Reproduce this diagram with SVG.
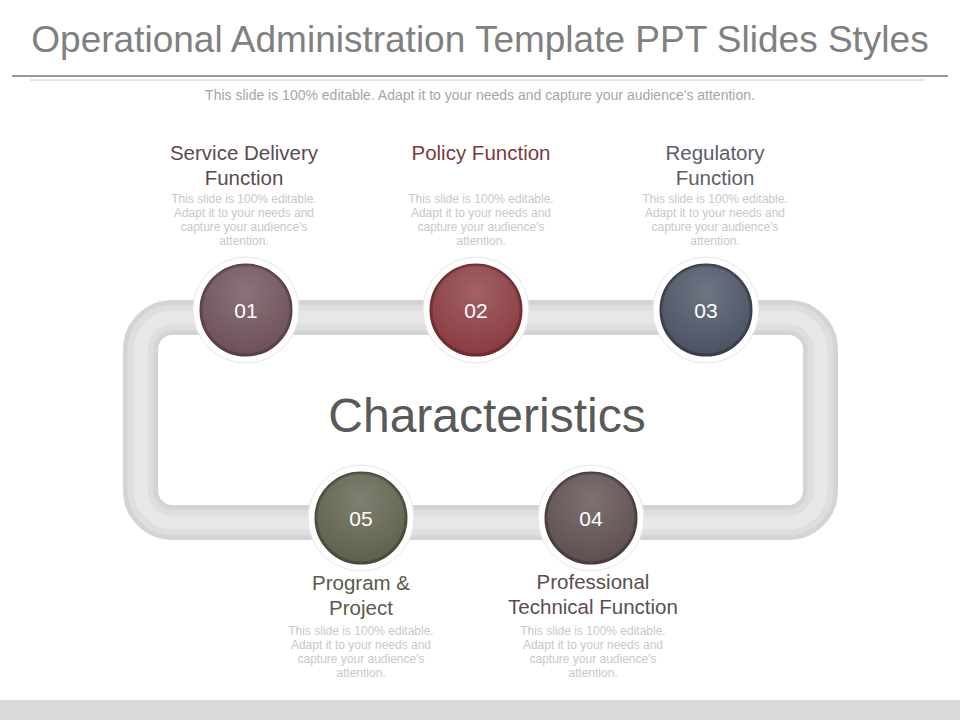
<svg xmlns="http://www.w3.org/2000/svg" width="960" height="720" viewBox="0 0 960 720">
<defs>
<radialGradient id="hl" cx="0.5" cy="0.3" r="0.7"><stop offset="0" stop-color="#fff" stop-opacity="0.2"/><stop offset="1" stop-color="#fff" stop-opacity="0"/></radialGradient>
</defs>
<style>
text{font-family:"Liberation Sans",Arial,sans-serif}
.h{font-size:20.5px;text-anchor:middle}
.d{font-size:12px;fill:#c8c8c8;text-anchor:middle}
.n{font-size:21px;fill:#fff;text-anchor:middle}
.ring{fill:#fff;stroke:#e6e6e6;stroke-width:1}
</style>
<rect width="960" height="720" fill="#fff"/>
<rect y="700" width="960" height="20" fill="#d9d9d9"/>
<text x="480" y="52" font-size="37" fill="#808080" text-anchor="middle">Operational Administration Template PPT Slides Styles</text>
<line x1="12" y1="76" x2="948" y2="76" stroke="#777" stroke-width="1.5"/>
<line x1="30" y1="80" x2="925" y2="80" stroke="#ccc" stroke-width="1"/>
<text x="480" y="100" font-size="14" fill="#a6a6a6" text-anchor="middle">This slide is 100% editable. Adapt it to your needs and capture your audience's attention.</text>
<g id="connectors">
<rect x="140.5" y="317.5" width="680" height="205" rx="32" fill="none" stroke="#d4d4d4" stroke-width="35"/>
<rect x="140.5" y="317.5" width="680" height="205" rx="32" fill="none" stroke="#dedede" stroke-width="26"/>
<rect x="140.5" y="317.5" width="680" height="205" rx="32" fill="none" stroke="#e7e7e7" stroke-width="14"/>
</g>
<text x="487" y="432" font-size="48" fill="#595959" text-anchor="middle">Characteristics</text>
<g id="n01">
<circle class="ring" cx="246" cy="310" r="53"/>
<circle cx="246" cy="310" r="45" fill="#6e5058" stroke="#5a3f46" stroke-width="3"/>
<circle cx="246" cy="310" r="45" fill="url(#hl)"/>
<text class="n" x="246" y="318">01</text>
<text class="h" x="244" y="160" fill="#5a4a50">Service Delivery</text>
<text class="h" x="244" y="185" fill="#5a4a50">Function</text>
<text class="d" x="244" y="203">This slide is 100% editable.</text>
<text class="d" x="244" y="217">Adapt it to your needs and</text>
<text class="d" x="244" y="231">capture your audience's</text>
<text class="d" x="244" y="245">attention.</text>
</g>
<g id="n02">
<circle class="ring" cx="476" cy="310" r="53"/>
<circle cx="476" cy="310" r="45" fill="#8a3b40" stroke="#6f2c30" stroke-width="3"/>
<circle cx="476" cy="310" r="45" fill="url(#hl)"/>
<text class="n" x="476" y="318">02</text>
<text class="h" x="481" y="160" fill="#7a3a3f">Policy Function</text>
<text class="d" x="481" y="203">This slide is 100% editable.</text>
<text class="d" x="481" y="217">Adapt it to your needs and</text>
<text class="d" x="481" y="231">capture your audience's</text>
<text class="d" x="481" y="245">attention.</text>
</g>
<g id="n03">
<circle class="ring" cx="706" cy="310" r="53"/>
<circle cx="706" cy="310" r="45" fill="#4b5263" stroke="#383e4c" stroke-width="3"/>
<circle cx="706" cy="310" r="45" fill="url(#hl)"/>
<text class="n" x="706" y="318">03</text>
<text class="h" x="715" y="160" fill="#5a5e68">Regulatory</text>
<text class="h" x="715" y="185" fill="#5a5e68">Function</text>
<text class="d" x="715" y="203">This slide is 100% editable.</text>
<text class="d" x="715" y="217">Adapt it to your needs and</text>
<text class="d" x="715" y="231">capture your audience's</text>
<text class="d" x="715" y="245">attention.</text>
</g>
<g id="n05">
<circle class="ring" cx="361" cy="518" r="53"/>
<circle cx="361" cy="518" r="45" fill="#5f604c" stroke="#4a4b3a" stroke-width="3"/>
<circle cx="361" cy="518" r="45" fill="url(#hl)"/>
<text class="n" x="361" y="526">05</text>
<text class="h" x="361" y="590" fill="#5a5a4c">Program &amp;</text>
<text class="h" x="361" y="615" fill="#5a5a4c">Project</text>
<text class="d" x="361" y="635">This slide is 100% editable.</text>
<text class="d" x="361" y="649">Adapt it to your needs and</text>
<text class="d" x="361" y="663">capture your audience's</text>
<text class="d" x="361" y="677">attention.</text>
</g>
<g id="n04">
<circle class="ring" cx="591" cy="518" r="53"/>
<circle cx="591" cy="518" r="45" fill="#5e4e4f" stroke="#4a3c3d" stroke-width="3"/>
<circle cx="591" cy="518" r="45" fill="url(#hl)"/>
<text class="n" x="591" y="526">04</text>
<text class="h" x="593" y="589" fill="#5a4e4f">Professional</text>
<text class="h" x="593" y="614" fill="#5a4e4f">Technical Function</text>
<text class="d" x="593" y="635">This slide is 100% editable.</text>
<text class="d" x="593" y="649">Adapt it to your needs and</text>
<text class="d" x="593" y="663">capture your audience's</text>
<text class="d" x="593" y="677">attention.</text>
</g>
</svg>
